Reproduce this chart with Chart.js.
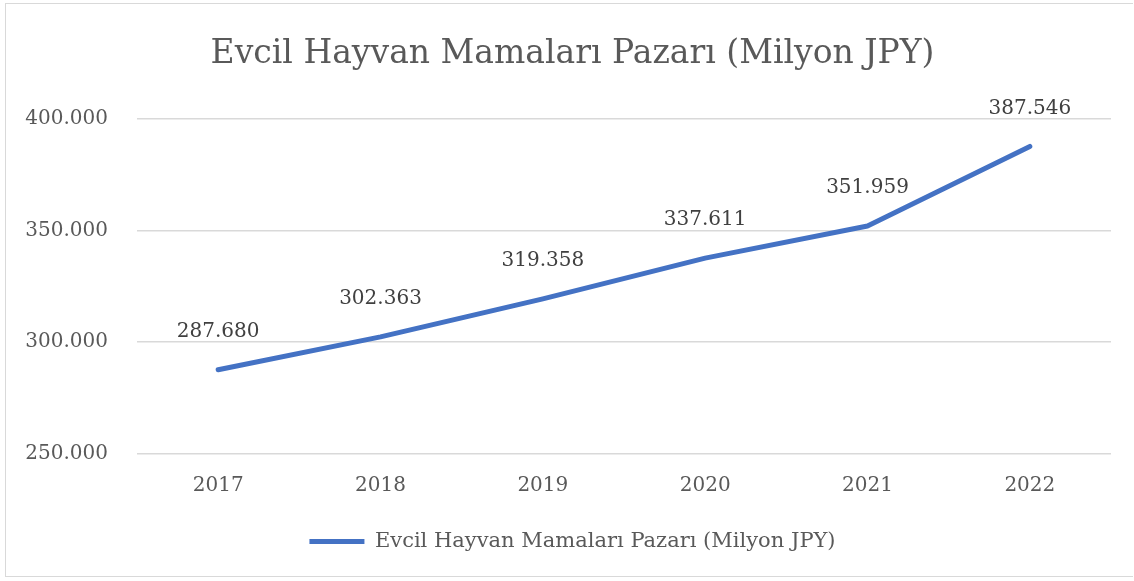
<!DOCTYPE html>
<html>
<head>
<meta charset="utf-8">
<script src="https://cdn.jsdelivr.net/npm/chart.js@4"></script>
<style>
  html, body { margin: 0; padding: 0; background: #fff; }
  #wrap { position: absolute; left: 5px; top: 3px; width: 1128px; height: 574px;
          border: 1.5px solid #D9D9D9; border-right: none; box-sizing: border-box; }
  #chart { position: absolute; left: 0; top: 0; }
</style>
</head>
<body>
<div id="wrap"></div>
<canvas id="chart" width="1134" height="581"></canvas>
<script>
// ======= Данные =======
const years = ["2017", "2018", "2019", "2020", "2021", "2022"];
const market = [287680, 302363, 319358, 337611, 351959, 387546];
const yTicks = [250000, 300000, 350000, 400000];
const seriesName = "Evcil Hayvan Mamaları Pazarı (Milyon JPY)";
const titleText = "Evcil Hayvan Mamaları Pazarı (Milyon JPY)";

const FONT = "'DejaVu Serif', 'Liberation Serif', serif";
const fmt = v => v.toLocaleString("de-DE");

// подписи значений над точками
const valueLabels = {
  id: "valueLabels",
  afterDatasetsDraw(chart) {
    const ctx = chart.ctx;
    const meta = chart.getDatasetMeta(0);
    ctx.save();
    ctx.font = "20px " + FONT;
    ctx.fillStyle = "#404040";
    ctx.textAlign = "center";
    ctx.textBaseline = "middle";
    meta.data.forEach((pt, i) => {
      ctx.fillText(fmt(market[i]), pt.x, pt.y - 38);
    });
    ctx.restore();
  }
};

// заголовок и легенда чуть правее центра, как в Excel
const shiftBoxes = {
  id: "shiftBoxes",
  afterLayout(chart) {
    [chart.titleBlock, chart.legend].forEach(b => {
      if (b) { b.left += 17; b.right += 17; }
    });
  }
};

const ctx = document.getElementById("chart").getContext("2d");
new Chart(ctx, {
  type: "line",
  data: {
    labels: years,
    datasets: [{
      label: seriesName,
      data: market,
      borderColor: "#4472C4",
      backgroundColor: "#4472C4",
      borderWidth: 5,
      borderCapStyle: "round",
      borderJoinStyle: "round",
      pointRadius: 0,
      tension: 0
    }]
  },
  options: {
    responsive: false,
    animation: false,
    layout: { padding: { top: 10, right: 23, bottom: 19, left: 0 } },
    plugins: {
      title: {
        display: true,
        text: titleText,
        color: "#595959",
        font: { family: FONT, size: 33, weight: "normal" },
        padding: { top: 25, bottom: 44 }
      },
      legend: {
        position: "bottom",
        labels: {
          color: "#595959",
          font: { family: FONT, size: 21 },
          usePointStyle: true,
          pointStyle: "line",
          pointStyleWidth: 55,
          boxWidth: 55,
          padding: 21
        }
      },
      tooltip: { enabled: false }
    },
    scales: {
      x: {
        offset: true,
        grid: { display: false },
        border: { display: false },
        ticks: { color: "#595959", font: { family: FONT, size: 20 }, padding: 12 }
      },
      y: {
        min: 250000,
        max: 400000,
        afterBuildTicks: axis => { axis.ticks = yTicks.map(v => ({ value: v })); },
        afterFit: axis => { axis.width = 137; },
        grid: { color: "#D9D9D9", lineWidth: 1.5, drawTicks: false },
        border: { display: false },
        ticks: { color: "#595959", font: { family: FONT, size: 20 }, padding: 29,
                 callback: v => fmt(v) }
      }
    }
  },
  plugins: [valueLabels, shiftBoxes]
});
</script>
</body>
</html>
